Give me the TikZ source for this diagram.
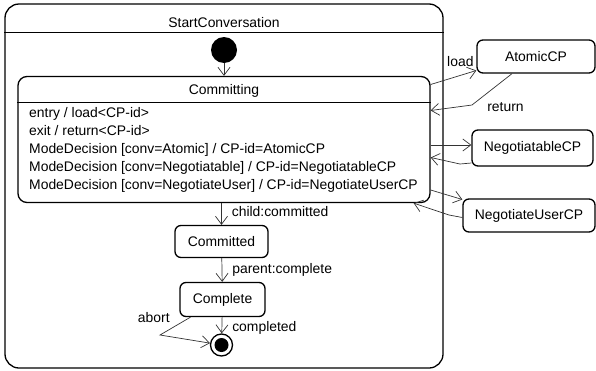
\documentclass[tikz,border=0pt]{standalone}
\usepackage{fontspec}
\setmainfont{Liberation Sans}
\usetikzlibrary{positioning}
\usetikzlibrary{arrows.meta}

\begin{document}
\begin{tikzpicture}[x=1pt,y=-1pt,
		font=\fontsize{13.9}{16}\selectfont,
		box/.style={draw,line width=1.3pt,rounded corners=6pt},
		simple/.style={box,minimum height=32pt,inner sep=0pt},
		trans/.style={draw=black!80,line width=0.7pt,-{Straight Barb[length=8pt,width=12pt]}},
		lbl/.style={inner sep=1pt}]
		\useasboundingbox (0,0) rectangle (596,370);
		
		% outer state
		\node[box,rounded corners=14pt,minimum width=438pt,minimum height=364pt] (start) at (224,186) {};
		\node[anchor=base] (starttitle) at (224,27) {StartConversation};
		\draw[line width=1pt] (start.west |- 0,32) -- (start.east |- 0,32);
		\node[circle,fill,inner sep=0pt,minimum size=26pt] (init) at (224,50) {};
		
		% committing state
		\node[box,rounded corners=9pt,minimum width=412pt,minimum height=126pt] (committing) at (224,139.5) {};
		\node[anchor=base] (committingtitle) at (224,94.5) {Committing};
		\draw[line width=1pt] (committing.west |- 0,102) -- (committing.east |- 0,102);
		\node[anchor=base west,inner sep=0pt] (entry) at (29,117.5) {entry / load<CP-id>};
		\node[anchor=base west,inner sep=0pt] (exit) at (29,135.5) {exit / return<CP-id>};
		\node[anchor=base west,inner sep=0pt] (modeatomic) at (29,153.5) {ModeDecision [conv=Atomic] / CP-id=AtomicCP};
		\node[anchor=base west,inner sep=0pt] (modenegotiatable) at (29,171.5) {ModeDecision [conv=Negotiatable] / CP-id=NegotiatableCP};
		\node[anchor=base west,inner sep=0pt] (modeuser) at (29,189.5) {ModeDecision [conv=NegotiateUser] / CP-id=NegotiateUserCP};
		
		% sub states
		\node[simple,minimum width=93pt] (committed) at (221.5,241.5) {Committed};
		\node[simple,minimum width=85pt,minimum height=34pt] (complete) at (222.5,299.5) {Complete};
		\node[circle,draw,line width=1.3pt,inner sep=0pt,minimum size=22pt] (final) at (221.5,345) {};
		\node[circle,fill,inner sep=0pt,minimum size=14pt] (finaldot) at (final) {};
		\coordinate (abortbend) at (160,335);
		
		% sub machines
		\node[simple,minimum width=118pt,minimum height=33pt] (atomic) at (536,56.5) {AtomicCP};
		\node[simple,minimum width=121pt,minimum height=36pt] (negotiatable) at (532.5,148) {NegotiatableCP};
		\node[simple,minimum width=132pt,minimum height=33pt] (negotiateuser) at (529,215.5) {NegotiateUserCP};
		\coordinate (returnbend) at (472,105);
		\coordinate (negbend) at (460,164);
		\coordinate (userbend) at (449,215);
		
		% transitions
		\draw[trans] (init) -- (committing);
		\draw[trans] (committing.south -| committed) -- (committed) node[lbl,midway,anchor=west,xshift=9pt,yshift=2pt]{child:committed};
		\draw[trans] (committed) -- (complete) node[lbl,midway,anchor=west,xshift=9pt]{parent:complete};
		\draw[trans] (complete) -- (final) node[lbl,midway,anchor=west,xshift=9pt,yshift=-3pt]{completed};
		\draw[trans] ([xshift=-32pt]complete.south) -- (abortbend) node[lbl,anchor=east,xshift=11pt,yshift=17pt]{abort} -- (final);
		
		\draw[trans] ([yshift=55pt]committing.east) -- ([yshift=-14pt]atomic.west) node[lbl,pos=0.65,above=7pt]{load};
		\draw[trans] ([xshift=-24pt]atomic.south) -- (returnbend) node[lbl,anchor=west,xshift=14pt,yshift=-2pt]{return} -- ([yshift=29pt]committing.east);
		\draw[trans] ([yshift=-5.5pt]committing.east) -- ([yshift=3pt]negotiatable.west);
		\draw[trans] ([yshift=-15pt]negotiatable.west) -- (negbend) -- ([yshift=-18pt]committing.east);
		\draw[trans] ([yshift=-50.5pt]committing.east) -- ([yshift=16pt]negotiateuser.west);
		\draw[trans] ([yshift=-2pt]negotiateuser.west) -- (userbend) -- ([xshift=-17pt]committing.south east);
	\end{tikzpicture}
\end{document}
